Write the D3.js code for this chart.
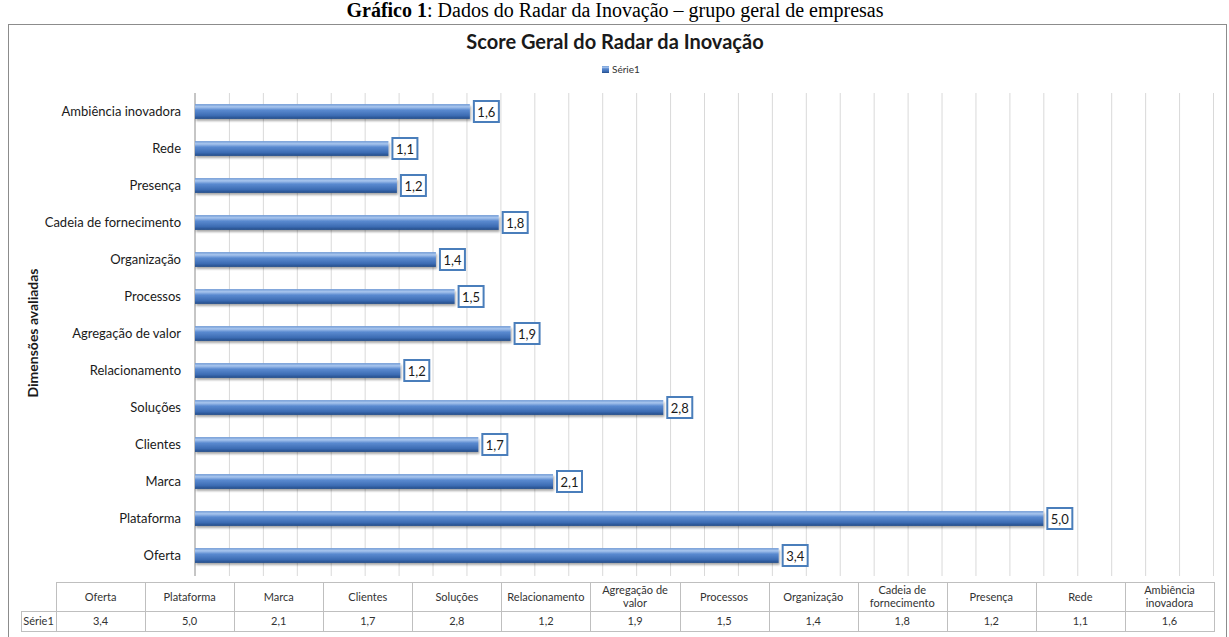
<!DOCTYPE html>
<html>
<head>
<meta charset="utf-8">
<script src="https://cdn.jsdelivr.net/npm/d3@7"></script>
<style>
  body { margin: 0; background: #fff; }
  svg { display: block; font-family: Lato, "Open Sans", sans-serif; }
</style>
</head>
<body>
<div id="chart"></div>
<script>
const categories = ["Oferta", "Plataforma", "Marca", "Clientes", "Soluções", "Relacionamento",
  "Agregação de valor", "Processos", "Organização", "Cadeia de fornecimento", "Presença",
  "Rede", "Ambiência inovadora"];
// values (labels show them rounded to one decimal)
const values = [3.44, 5.0, 2.11, 1.67, 2.76, 1.21, 1.86, 1.53, 1.42, 1.79, 1.19, 1.14, 1.62];
const tableHeaders = [["Oferta"], ["Plataforma"], ["Marca"], ["Clientes"], ["Soluções"],
  ["Relacionamento"], ["Agregação de", "valor"], ["Processos"], ["Organização"],
  ["Cadeia de", "fornecimento"], ["Presença"], ["Rede"], ["Ambiência", "inovadora"]];
const seriesName = "Série1";
const chartTitle = "Score Geral do Radar da Inovação";
const axisTitle = "Dimensões avaliadas";
const xDomain = [0, 6];

const data = categories.map((c, i) => ({ cat: c, value: values[i], header: tableHeaders[i] }));
const fmt = v => d3.format(".1f")(v).replace(".", ",");

const width = 1229, height = 637;
const plot = { left: 195, right: 1213, top: 93, bottom: 574 };

const svg = d3.select("#chart").append("svg")
  .attr("width", width)
  .attr("height", height);

const defs = svg.append("defs");
const grad = defs.append("linearGradient")
  .attr("id", "barGrad")
  .attr("x1", 0).attr("y1", 0).attr("x2", 0).attr("y2", 1);
[["0%", "#6d98d4"], ["18%", "#a9c6ee"], ["40%", "#5a8ad0"], ["78%", "#3c6cb3"], ["100%", "#234c87"]]
  .forEach(([o, c]) => grad.append("stop").attr("offset", o).attr("stop-color", c));

const shadow = defs.append("filter").attr("id", "shadow").attr("height", "160%");
shadow.append("feDropShadow")
  .attr("dx", 1).attr("dy", 2).attr("stdDeviation", 1.2)
  .attr("flood-color", "#000").attr("flood-opacity", 0.35);

// caption above the chart
svg.append("text")
  .attr("x", 615)
  .attr("y", 17)
  .attr("text-anchor", "middle")
  .style("font-family", "'Liberation Serif', 'Times New Roman', serif")
  .style("font-size", "20px")
  .html('<tspan font-weight="bold">Gráfico 1</tspan>: Dados do Radar da Inovação – grupo geral de empresas');

// chart border
svg.append("rect")
  .attr("x", 8.5).attr("y", 24.5)
  .attr("width", 1218).attr("height", 620)
  .attr("fill", "white")
  .attr("stroke", "#8c8c8c");

svg.append("text")
  .attr("x", 615)
  .attr("y", 49)
  .attr("text-anchor", "middle")
  .style("font-size", "20px")
  .style("font-weight", "bold")
  .attr("fill", "#1a1a1a")
  .text(chartTitle);

// legend
const legend = svg.append("g").attr("transform", "translate(602,66)");
legend.append("rect")
  .attr("width", 7).attr("height", 7)
  .attr("fill", "url(#barGrad)");
legend.append("text")
  .attr("x", 10).attr("y", 7)
  .style("font-size", "10px")
  .attr("fill", "#333")
  .text(seriesName);

const x = d3.scaleLinear().domain(xDomain).range([plot.left, plot.right]);
const y = d3.scaleBand()
  .domain(categories.slice().reverse())
  .range([plot.top, plot.bottom])
  .paddingInner(0.6)
  .paddingOuter(0.3);

// gridlines
svg.append("g")
  .attr("transform", `translate(0,${plot.bottom + 2})`)
  .call(d3.axisBottom(x).ticks(30).tickSize(-(plot.bottom + 2 - plot.top)).tickFormat(""))
  .call(g => g.select(".domain").remove())
  .call(g => g.selectAll(".tick line").attr("stroke", "#d9d9d9"))
  .call(g => g.selectAll(".tick").filter(d => d === 0).remove());

// category axis
svg.append("g")
  .attr("transform", `translate(${plot.left},0)`)
  .call(d3.axisLeft(y).tickSize(0).tickPadding(14))
  .call(g => g.select(".domain").attr("stroke", "#8c8c8c").attr("d", `M0,${plot.top}V${plot.bottom + 2}`))
  .selectAll("text")
  .style("font-family", "Lato, sans-serif")
  .style("font-size", "13px")
  .attr("fill", "#1a1a1a");

svg.append("text")
  .attr("transform", "rotate(-90)")
  .attr("x", -333)
  .attr("y", 38)
  .attr("text-anchor", "middle")
  .style("font-size", "14px")
  .style("font-weight", "bold")
  .attr("fill", "#1a1a1a")
  .text(axisTitle);

// bars
svg.append("g").selectAll("rect")
  .data(data)
  .join("rect")
  .attr("x", x(0))
  .attr("y", d => y(d.cat))
  .attr("width", d => x(d.value) - x(0))
  .attr("height", y.bandwidth())
  .attr("fill", "url(#barGrad)")
  .attr("filter", "url(#shadow)");

// value labels
const labels = svg.append("g").selectAll("g")
  .data(data)
  .join("g")
  .attr("transform", d => `translate(${x(d.value) + 4},${y(d.cat) + y.bandwidth() / 2})`);

labels.append("rect")
  .attr("x", 0).attr("y", -10.5)
  .attr("width", 25).attr("height", 21)
  .attr("fill", "white")
  .attr("stroke", "#4a7ebb")
  .attr("stroke-width", 2);

labels.append("text")
  .attr("x", 12.5).attr("y", 5)
  .attr("text-anchor", "middle")
  .style("font-size", "13px")
  .attr("fill", "#1a1a1a")
  .text(d => fmt(d.value));

// data table
const tbl = { left: 56, right: 1214, rowHead: 21, top: 582, mid: 611, bottom: 631 };
const col = d3.scaleBand().domain(categories).range([tbl.left, tbl.right]);
const table = svg.append("g");
const lineColor = "#bfbfbf";

table.append("rect")
  .attr("x", tbl.left + 0.5).attr("y", tbl.top + 0.5)
  .attr("width", tbl.right - tbl.left).attr("height", tbl.bottom - tbl.top)
  .attr("fill", "none").attr("stroke", lineColor);
table.append("rect")
  .attr("x", tbl.rowHead + 0.5).attr("y", tbl.mid + 0.5)
  .attr("width", tbl.left - tbl.rowHead).attr("height", tbl.bottom - tbl.mid)
  .attr("fill", "none").attr("stroke", lineColor);
table.append("line")
  .attr("x1", tbl.left).attr("x2", tbl.right)
  .attr("y1", tbl.mid + 0.5).attr("y2", tbl.mid + 0.5)
  .attr("stroke", lineColor);
table.selectAll(".sep")
  .data(categories.slice(1))
  .join("line")
  .attr("class", "sep")
  .attr("x1", d => Math.round(col(d)) + 0.5).attr("x2", d => Math.round(col(d)) + 0.5)
  .attr("y1", tbl.top).attr("y2", tbl.bottom)
  .attr("stroke", lineColor);

table.append("text")
  .attr("x", tbl.rowHead + (tbl.left - tbl.rowHead) / 2)
  .attr("y", tbl.mid + 14)
  .attr("text-anchor", "middle")
  .style("font-size", "11px")
  .attr("fill", "#333")
  .text(seriesName);

const colGroups = table.selectAll(".col")
  .data(data)
  .join("g")
  .attr("class", "col")
  .attr("transform", d => `translate(${col(d.cat) + col.bandwidth() / 2},0)`);

colGroups.append("text")
  .attr("text-anchor", "middle")
  .style("font-size", "11px")
  .attr("fill", "#333")
  .each(function (d) {
    const t = d3.select(this);
    const y0 = d.header.length === 1 ? tbl.top + 19 : tbl.top + 12;
    d.header.forEach((line, i) => {
      t.append("tspan").attr("x", 0).attr("y", y0 + i * 13).text(line);
    });
  });

colGroups.append("text")
  .attr("y", tbl.mid + 14)
  .attr("text-anchor", "middle")
  .style("font-size", "11px")
  .attr("fill", "#333")
  .text(d => fmt(d.value));
</script>
</body>
</html>
